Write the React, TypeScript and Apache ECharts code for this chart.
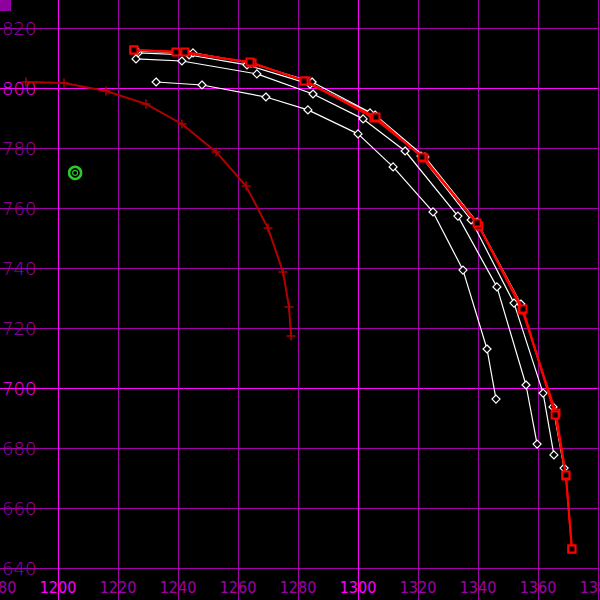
import React, { useEffect, useRef } from "react";
import * as echarts from "echarts";

// Axis ranges (value units)
const xRange = [1180, 1380];
const yRange = [620, 840];
const xStep = 20;
const yStep = 20;

// Red curves (square markers)
const redA = [
  [1225.3, 812.7], [1239.3, 812.0], [1264.0, 808.7], [1282.0, 802.3], [1306.0, 790.3],
  [1321.3, 777.0], [1339.7, 755.0], [1355.0, 726.3], [1365.7, 691.0], [1369.3, 671.0], [1371.3, 646.3],
];
const redB = [
  [1225.3, 812.7], [1242.3, 812.0], [1264.7, 808.3], [1282.7, 802.3], [1305.3, 790.0],
  [1322.0, 776.7], [1340.3, 754.0], [1354.7, 726.0], [1366.0, 691.7], [1369.3, 670.7], [1371.3, 646.3],
];

// White curves (diamond markers)
const white1 = [
  [1226.7, 811.7], [1243.7, 811.0], [1263.0, 807.7], [1284.0, 801.3], [1304.0, 791.7],
  [1321.0, 777.3], [1337.7, 756.0], [1352.0, 728.3], [1361.7, 698.3], [1365.3, 677.7],
];
const white2 = [
  [1226.3, 812.3], [1245.0, 811.7], [1264.3, 808.3], [1284.7, 802.0], [1305.7, 791.0],
  [1322.3, 777.0], [1339.7, 755.3], [1354.3, 728.0], [1365.0, 693.7], [1368.7, 673.3],
];
const white3 = [
  [1226.0, 809.7], [1241.3, 809.0], [1266.3, 804.7], [1285.0, 798.0], [1301.7, 789.7],
  [1315.7, 779.0], [1333.3, 757.3], [1346.3, 733.7], [1356.0, 701.0], [1359.7, 681.3],
];
const white4 = [
  [1232.7, 802.0], [1248.0, 801.0], [1269.3, 797.0], [1283.3, 792.7], [1300.0, 784.7],
  [1311.7, 773.7], [1325.0, 758.7], [1335.0, 739.3], [1343.0, 713.0], [1346.0, 696.3],
];

// Dark red curve (plus markers)
const darkRed = [
  [1189.3, 802.0], [1202.0, 801.7], [1216.0, 799.0], [1229.3, 794.7], [1241.3, 788.0],
  [1252.7, 778.7], [1262.7, 767.3], [1270.0, 753.3], [1275.0, 738.7], [1277.0, 727.0], [1277.7, 717.3],
];

// Single green point
const greenPoint = [[1205.7, 771.7]];

const MAJOR = "#ff00ff";
const MINOR = "#a000a8";
const GREEN = "#33ff33";

export default function App() {
  const ref = useRef<HTMLDivElement>(null);

  useEffect(() => {
    if (!ref.current) return;
    const chart = echarts.init(ref.current, undefined, { renderer: "svg" });

    const whiteSeries = (data: number[][]) => ({
      type: "line",
      data,
      symbol: "diamond",
      symbolSize: 8,
      lineStyle: { color: "#ffffff", width: 1.2 },
      itemStyle: { color: "#000000", borderColor: "#ffffff", borderWidth: 1.2 },
      z: 3,
      silent: true,
    });
    const redSeries = (data: number[][]) => ({
      type: "line",
      data,
      symbol: "rect",
      symbolSize: 7,
      lineStyle: { color: "#ff0000", width: 2 },
      itemStyle: { color: "#000000", borderColor: "#ff0000", borderWidth: 2 },
      z: 4,
      silent: true,
    });

    chart.setOption({
      animation: false,
      backgroundColor: "#000000",
      grid: {
        left: -2,
        top: -32,
        width: 600,
        height: 660,
        containLabel: false,
        outerBoundsMode: "none",
      },
      xAxis: {
        type: "value",
        min: xRange[0],
        max: xRange[1],
        interval: xStep,
        axisLine: { show: false },
        axisTick: { show: false },
        splitLine: {
          show: true,
          showMinLine: true,
          showMaxLine: true,
          lineStyle: { color: [MINOR, MAJOR, MINOR, MINOR, MINOR], width: 1 },
        },
        axisLabel: {
          inside: true,
          margin: 41,
          verticalAlign: "middle",
          showMinLabel: true,
          showMaxLabel: true,
          hideOverlap: false,
          formatter: (v: number) => String(v),
          fontFamily: "'Liberation Sans Narrow', 'DejaVu Sans Condensed', sans-serif",
          fontSize: 16,
          color: (v: any) => (Number(v) % 100 === 0 ? MAJOR : MINOR),
        },
      },
      yAxis: {
        type: "value",
        min: yRange[0],
        max: yRange[1],
        interval: yStep,
        axisLine: { show: false },
        axisTick: { show: false },
        splitLine: {
          show: true,
          showMinLine: true,
          showMaxLine: true,
          lineStyle: { color: [MINOR, MINOR, MINOR, MINOR, MAJOR], width: 1 },
        },
        axisLabel: {
          inside: true,
          margin: 4,
          verticalAlign: "middle",
          showMinLabel: false,
          showMaxLabel: false,
          formatter: (v: number) => String(v),
          fontFamily: "'DejaVu Sans', sans-serif",
          fontWeight: 200,
          fontSize: 18,
          color: (v: any) => (Number(v) % 100 === 0 ? MAJOR : MINOR),
        },
      },
      graphic: [
        { type: "rect", left: 0, top: 0, shape: { width: 11, height: 11 }, style: { fill: "#9000a0" }, z: 10 },
      ],
      series: [
        {
          type: "line",
          data: darkRed,
          symbol: "path://M0,5H10M5,0V10",
          symbolSize: [9, 9],
          lineStyle: { color: "#b00000", width: 2 },
          itemStyle: { color: "#b00000", borderColor: "#b00000", borderWidth: 1.5 },
          z: 2,
          silent: true,
        },
        whiteSeries(white4),
        whiteSeries(white3),
        whiteSeries(white1),
        whiteSeries(white2),
        redSeries(redB),
        redSeries(redA),
        {
          type: "scatter",
          data: greenPoint,
          symbol: "circle",
          symbolSize: 12,
          itemStyle: { color: "#000000", borderColor: GREEN, borderWidth: 2.5 },
          z: 5,
          silent: true,
        },
        {
          type: "scatter",
          data: greenPoint,
          symbol: "circle",
          symbolSize: 5,
          itemStyle: { color: "#000000", borderColor: GREEN, borderWidth: 1.2 },
          z: 6,
          silent: true,
        },
      ],
    });

    return () => chart.dispose();
  }, []);

  return (
    <div
      ref={ref}
      style={{ position: "fixed", left: 0, top: 0, width: 600, height: 600 }}
    />
  );
}
